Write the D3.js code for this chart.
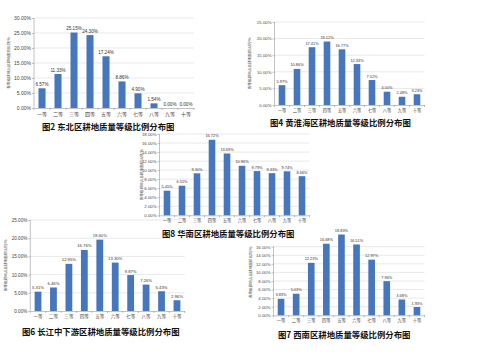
<!DOCTYPE html>
<html><head><meta charset="utf-8">
<script src="https://cdn.jsdelivr.net/npm/d3@7"></script>
<style>
html,body{margin:0;padding:0;background:#fff;}
svg{display:block;}
text{font-family:"Liberation Sans","Noto Sans CJK SC",sans-serif;}
.cjk{font-family:"Noto Sans CJK SC",sans-serif;}
</style></head>
<body>
<svg id="c" width="480" height="360"></svg>
<script>
// ---- data ----
const categories = ["一等","二等","三等","四等","五等","六等","七等","八等","九等","十等"];
const dongbei     = [6.57, 11.33, 25.15, 24.30, 17.24, 8.86, 4.90, 1.54, 0.00, 0.00];
const huanghuaihai= [5.97, 10.86, 17.41, 19.12, 16.77, 12.33, 7.52, 4.00, 2.48, 3.23];
const huanan      = [5.45, 6.55, 9.30, 16.72, 13.69, 10.96, 9.79, 9.33, 9.74, 8.66];
const changjiang  = [5.31, 6.46, 12.95, 16.76, 19.60, 13.30, 9.87, 7.26, 5.43, 2.96];
const xinan       = [3.83, 5.03, 12.23, 16.68, 18.83, 16.51, 12.97, 7.96, 3.68, 1.93];
const titles = ["图2 东北区耕地质量等级比例分布图","图4 黄淮海区耕地质量等级比例分布图","图8 华南区耕地质量等级比例分布图","图6 长江中下游区耕地质量等级比例分布图","图7 西南区耕地质量等级比例分布图"];
const axisMax   = [30, 25, 18, 25, 20];   // scale maximum
const tickMax   = [30, 25, 18, 25, 16];   // highest visible tick label
const axisStep  = [5, 5, 2, 5, 2];
const yTitle = "各等级耕地占总耕地面积比例/%";

// ---- layout (pixel geometry, kept apart from data) ----
const layout = [
  {x0:34,   x1:194,   yT:18,   yB:108,   ytx:10,  tx:42,  ty:130, lab:5},
  {x0:274.5,x1:424.5, yT:22,   yB:105,   ytx:251, tx:270, ty:126, lab:4.3},
  {x0:159.5,x1:309.5, yT:134,  yB:215.3, ytx:143, tx:162, ty:237, lab:4.3},
  {x0:30.3, x1:184.7, yT:220,  yB:311,   ytx:7,   tx:22,  ty:335, lab:4.6},
  {x0:273.5,x1:424.5, yT:229.5,yB:315.3, ytx:252, tx:278, ty:338, lab:4.3}
];
const series = [dongbei, huanghuaihai, huanan, changjiang, xinan];
const order = [4,0,1,3,2]; // draw order
const svg = d3.select("#c");
const fmt = d3.format(".2f");

order.forEach(i => {
  const L = layout[i], vals = series[i];
  const g = svg.append("g");
  const x = d3.scaleBand().domain(categories).range([L.x0, L.x1]).paddingInner(0.56).paddingOuter(0.28);
  const y = d3.scaleLinear().domain([0, axisMax[i]]).range([L.yB, L.yT]);
  const ticks = d3.range(0, tickMax[i] + 1e-9, axisStep[i]);
  // gridlines
  g.selectAll(".grid").data(ticks.slice(1)).join("line")
    .attr("x1", L.x0).attr("x2", L.x1)
    .attr("y1", d => y(d)).attr("y2", d => y(d))
    .attr("stroke", "#d9d9d9").attr("stroke-width", 0.6);
  // y axis
  const ya = d3.axisLeft(y).tickValues(ticks).tickSize(2).tickFormat(d => fmt(d) + "%");
  const yg = g.append("g").attr("transform", `translate(${L.x0},0)`).call(ya);
  yg.select(".domain").remove();
  yg.append("line").attr("x1", 0).attr("x2", 0)
    .attr("y1", y(0)).attr("y2", y(tickMax[i]))
    .attr("stroke", "#999").attr("stroke-width", 0.6);
  yg.selectAll(".tick line").attr("stroke", "#999").attr("stroke-width", 0.6);
  yg.selectAll("text").attr("font-size", L.lab).attr("fill", "#444").attr("x", -3);
  // x axis
  const xa = d3.axisBottom(x).tickSize(0);
  const xg = g.append("g").attr("transform", `translate(0,${L.yB})`).call(xa);
  xg.select(".domain").attr("stroke", "#999").attr("stroke-width", 0.6);
  xg.selectAll("text").attr("class","cjk").attr("font-size", L.lab).attr("fill", "#444").attr("dy", "0.9em");
  // category separator ticks
  g.selectAll(".sep").data(d3.range(categories.length + 1)).join("line")
    .attr("x1", k => L.x0 + k * (L.x1 - L.x0) / categories.length)
    .attr("x2", k => L.x0 + k * (L.x1 - L.x0) / categories.length)
    .attr("y1", L.yB).attr("y2", L.yB + 2)
    .attr("stroke", "#999").attr("stroke-width", 0.6);
  // bars
  g.selectAll(".bar").data(vals).join("rect")
    .attr("x", (d, k) => x(categories[k]))
    .attr("width", x.bandwidth())
    .attr("y", d => y(d))
    .attr("height", d => L.yB - y(d))
    .attr("fill", "#4676bd");
  // value labels
  g.selectAll(".vl").data(vals).join("text")
    .attr("x", (d, k) => x(categories[k]) + x.bandwidth() / 2)
    .attr("y", d => y(d) - 2.5)
    .attr("text-anchor", "middle")
    .attr("font-size", L.lab - 0.4).attr("fill", "#333")
    .text(d => fmt(d) + "%");
  // y title
  g.append("text").attr("class","cjk")
    .attr("transform", `translate(${L.ytx},${(L.yT + L.yB) / 2}) rotate(-90)`)
    .attr("text-anchor", "middle").attr("font-size", 3.6).attr("fill", "#444")
    .text(yTitle);
  // chart title with white backing
  const t = g.append("text").attr("class","cjk")
    .attr("x", L.tx).attr("y", L.ty)
    .attr("font-size", 8.4).attr("font-weight", "bold").attr("fill", "#111")
    .text(titles[i]);
  const bb = t.node().getBBox();
  g.insert("rect", () => t.node())
    .attr("x", bb.x - 1).attr("y", bb.y).attr("width", bb.width + 2).attr("height", bb.height)
    .attr("fill", "#fff");
});
</script>
</body></html>
